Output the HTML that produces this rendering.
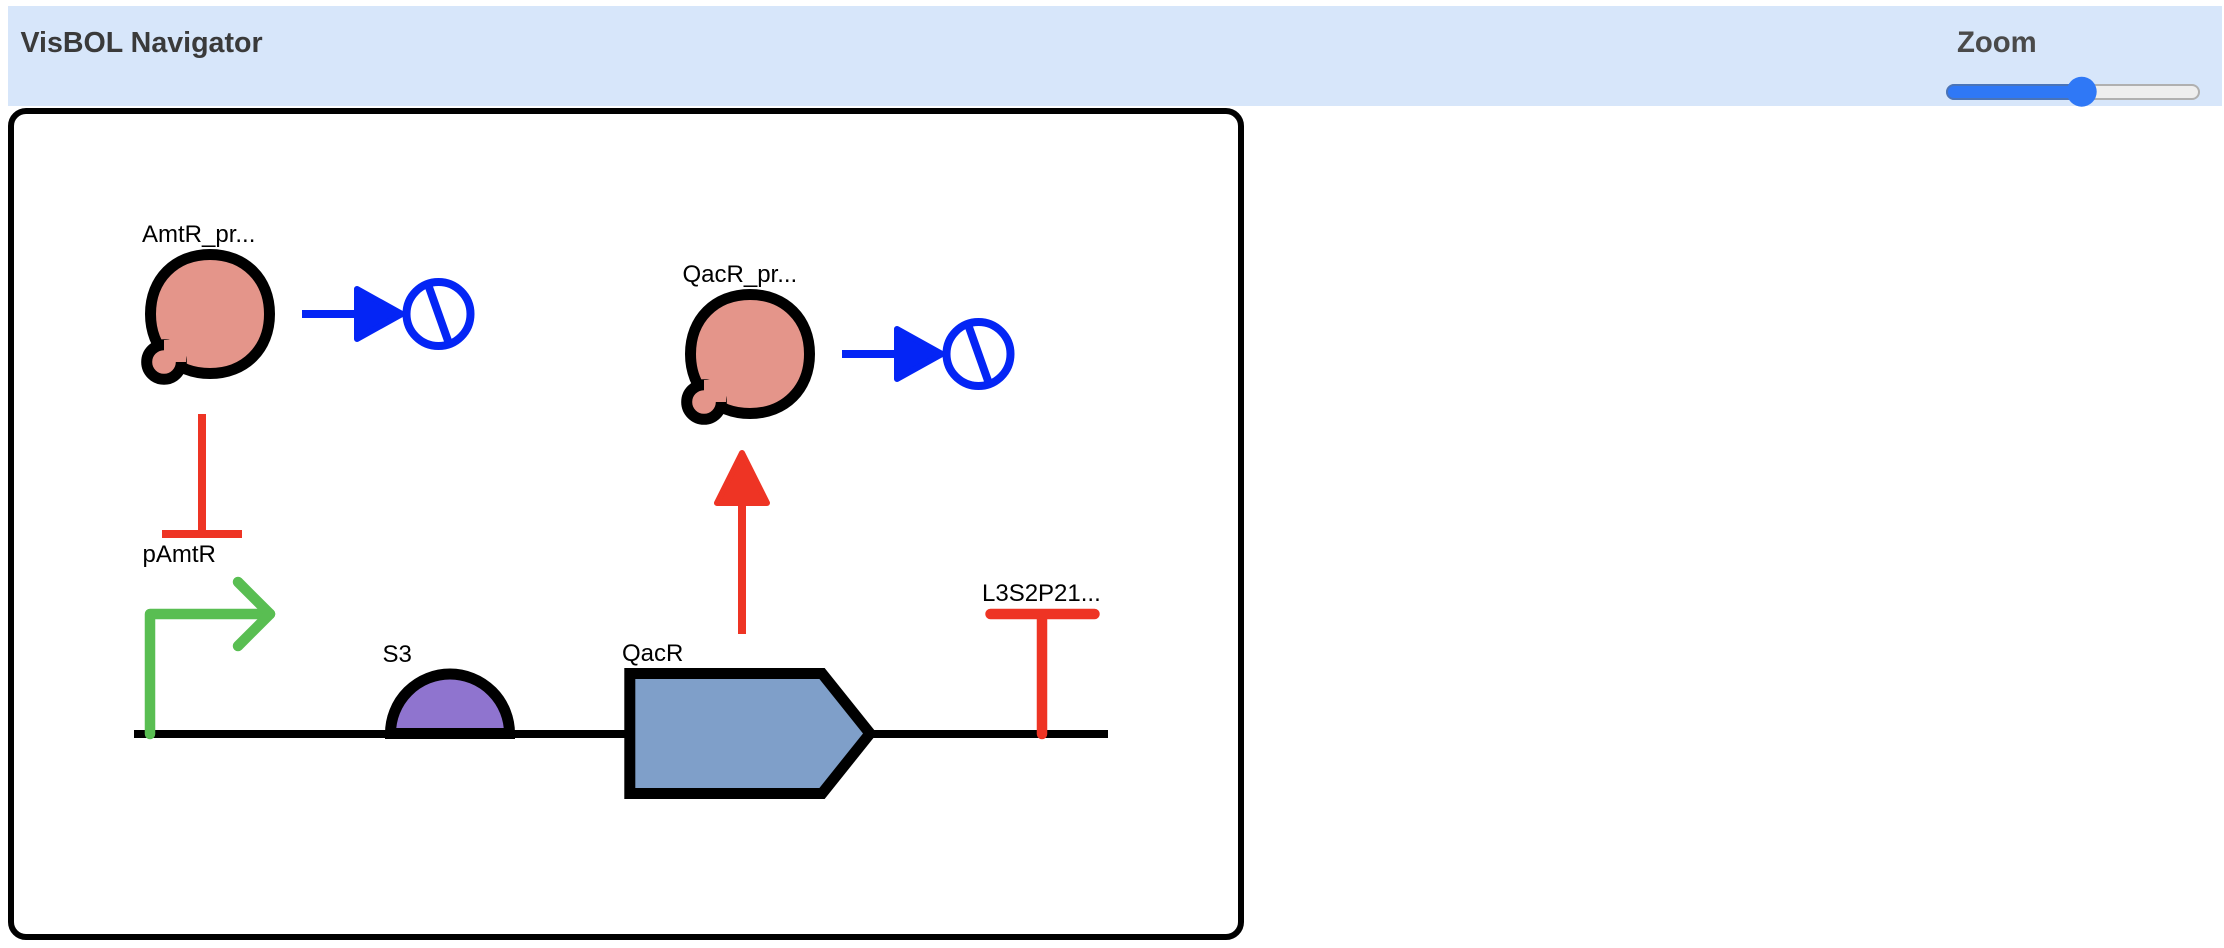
<!DOCTYPE html>
<html lang="en">
<head>
<meta charset="utf-8">
<title>VisBOL Navigator</title>
<style>
html,body{margin:0;padding:0;background:#fff;width:2224px;height:948px;overflow:hidden}
svg{display:block}
text{font-family:"Liberation Sans",Arial,sans-serif}
.lbl{font-size:24px;fill:#000}
</style>
</head>
<body>
<svg xmlns="http://www.w3.org/2000/svg" width="2224" height="948" viewBox="0 0 2224 948">
<defs>
<g id="prot">
  <path d="M210 254.5C245 254.5 269.5 279 269.5 314C269.5 349 245 373.5 210 373.5C175 373.5 150.5 349 150.5 314C150.5 279 175 254.5 210 254.5Z" fill="#e4958a" stroke="#000" stroke-width="11"/>
  <circle cx="164" cy="362" r="17.3" fill="#e4958a" stroke="#000" stroke-width="11"/>
  <rect x="164" y="340" width="22" height="22" fill="#e4958a"/>
</g>
<g id="deg">
  <path d="M302 314H357" stroke="#0425f5" stroke-width="8" fill="none"/>
  <path d="M357 289V339L402 314Z" fill="#0425f5" stroke="#0425f5" stroke-width="6" stroke-linejoin="round"/>
  <circle cx="438.5" cy="314" r="32" fill="#fff" stroke="#0425f5" stroke-width="8"/>
  <path d="M427.5 283L449.5 345" stroke="#0425f5" stroke-width="8" fill="none"/>
</g>
</defs>

<!-- header -->
<rect x="8" y="6" width="2214" height="100" fill="#d7e6fa"/>
<text x="20.5" y="52" font-weight="700" fill="#3a3a3a" style="font-size:28.6px">VisBOL Navigator</text>
<text x="1957" y="52" font-weight="700" fill="#4a4a4a" style="font-size:29.3px">Zoom</text>

<!-- slider -->
<rect x="1947" y="85" width="252" height="14" rx="7" fill="#eeeeee" stroke="#b0b0b0" stroke-width="2"/>
<path d="M2082 85H1954A7 7 0 0 0 1954 99H2082Z" fill="#2f78f6" stroke="#4a74b8" stroke-width="2"/>
<circle cx="2081.7" cy="91.7" r="15" fill="#2f78f6"/>

<!-- frame -->
<rect x="11" y="111" width="1230" height="826" rx="15" ry="15" fill="#fff" stroke="#000" stroke-width="6"/>

<!-- proteins + degradation -->
<use href="#prot"/>
<use href="#deg"/>
<use href="#prot" transform="translate(540 40)"/>
<use href="#deg" transform="translate(540 40)"/>

<text class="lbl" x="142" y="242">AmtR_pr...</text>
<text class="lbl" x="682.5" y="282">QacR_pr...</text>

<!-- repression -->
<path d="M202 414V534" stroke="#ee3424" stroke-width="8" fill="none"/>
<path d="M162 534H242" stroke="#ee3424" stroke-width="8" fill="none"/>

<!-- activation/production arrow -->
<path d="M742 634V503" stroke="#ee3424" stroke-width="8" fill="none"/>
<path d="M742 453L717 503H767Z" fill="#ee3424" stroke="#ee3424" stroke-width="6" stroke-linejoin="round"/>

<!-- backbone -->
<path d="M134 734H1108" stroke="#000" stroke-width="8" fill="none"/>

<!-- promoter -->
<path d="M150 734V614H270" stroke="#59be52" stroke-width="10.5" fill="none" stroke-linecap="round" stroke-linejoin="round"/>
<path d="M238 582L270 614L238 646" stroke="#59be52" stroke-width="10.5" fill="none" stroke-linecap="round" stroke-linejoin="round"/>
<text class="lbl" x="142.5" y="562">pAmtR</text>

<!-- RBS -->
<path d="M390.5 733.5A59.5 59.5 0 0 1 509.5 733.5Z" fill="#8f74cf" stroke="#000" stroke-width="11"/>
<text class="lbl" x="382.5" y="662">S3</text>

<!-- CDS -->
<path d="M629.8 673.5H822L870 733.5L822 793.5H629.8Z" fill="#7f9fc9" stroke="#000" stroke-width="11"/>
<text class="lbl" x="622" y="661">QacR</text>

<!-- terminator -->
<path d="M1042 734V614M990.5 614H1094.5" stroke="#ee3424" stroke-width="10.5" fill="none" stroke-linecap="round"/>
<text class="lbl" x="982" y="601">L3S2P21...</text>
</svg>
</body>
</html>
